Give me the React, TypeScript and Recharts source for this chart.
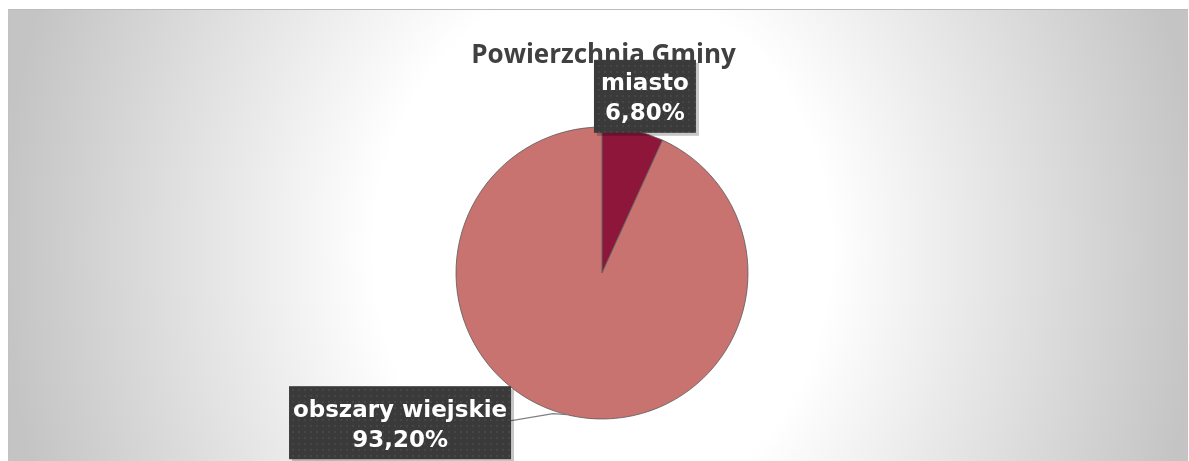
import { PieChart, Pie, Cell } from 'recharts'

const TITLE = 'Powierzchnia Gminy'
const categories = ['miasto', 'obszary wiejskie']
const shares = [6.8, 93.2]
const colors = ['#8e163b', '#c97370']

const data = categories.map((name, i) => ({ name, value: shares[i] }))

const fmt = (v: number) => v.toFixed(2).replace('.', ',') + '%'

const SliceLabel = (p: any) => {
  const { cx, cy, midAngle, outerRadius, index, name, value } = p
  const rad = (-midAngle * Math.PI) / 180
  const ex = cx + outerRadius * Math.cos(rad)
  const ey = cy + outerRadius * Math.sin(rad)
  const w = name.length * 12 + 30
  const h = 73
  // miasto sits just above its slice, the big one is pulled out to the left
  const bx = index === 0 ? ex + 12 : ex - 171
  const by = index === 0 ? ey - 34 : ey + 7
  const pid = `dots-${index}`
  return (
    <g>
      <defs>
        <pattern id={pid} width={6} height={6} patternUnits="userSpaceOnUse">
          <rect width={6} height={6} fill="#3a3a3a" />
          <circle cx={3} cy={3} r={0.8} fill="#555" />
        </pattern>
      </defs>
      {index === 1 && (
        <polyline
          points={`${bx + w / 2},${by - 2} ${ex - 18},${ey - 2} ${ex - 4},${ey - 1}`}
          fill="none"
          stroke="#7f7f7f"
          strokeWidth={1.2}
        />
      )}
      <rect x={bx - w / 2 + 3} y={by - h / 2 + 3} width={w} height={h} fill="rgba(0,0,0,0.22)" />
      <rect x={bx - w / 2} y={by - h / 2} width={w} height={h} fill={`url(#${pid})`} />
      <text
        x={bx}
        y={by - 6}
        textAnchor="middle"
        fill="#fff"
        fontFamily="DejaVu Sans"
        fontWeight="bold"
        fontSize={23}
      >
        {name}
      </text>
      <text
        x={bx}
        y={by + 24}
        textAnchor="middle"
        fill="#fff"
        fontFamily="DejaVu Sans"
        fontWeight="bold"
        fontSize={23}
      >
        {fmt(value)}
      </text>
    </g>
  )
}

const bg = [
  'radial-gradient(circle 178px at 593px 262px, #ffffff 84%, rgba(255,255,255,0) 100%)',
  'radial-gradient(ellipse 600px 700px at 593px 240px, #ffffff 0%, #ffffff 38%, #c4c4c4 100%)',
].join(', ')

export default function App() {
  return (
    <div
      style={{
        position: 'fixed',
        left: 8,
        top: 9,
        width: 1180,
        height: 460,
        boxSizing: 'border-box',
        borderTop: '1px solid #bcbcbc',
        borderLeft: '1px solid #c2c2c2',
        background: bg,
        overflow: 'hidden',
      }}
    >
      <style>{'html { overflow: hidden; }'}</style>
      <div
        style={{
          position: 'absolute',
          top: 26,
          left: 0,
          width: 1189,
          textAlign: 'center',
          fontFamily: 'Open Sans',
          fontWeight: 'bold',
          fontSize: 26,
          lineHeight: '34px',
          color: '#404040',
        }}
      >
        {TITLE}
      </div>
      <div style={{ position: 'absolute', top: -1, left: -1 }}>
        <PieChart width={1181} height={452}>
          <Pie
            data={data}
            dataKey="value"
            nameKey="name"
            cx={589}
            cy={259}
            outerRadius={146}
            startAngle={90}
            endAngle={-270}
            stroke="#5a5a5a"
            strokeWidth={0.8}
            label={SliceLabel}
            labelLine={false}
            isAnimationActive={false}
          >
            {data.map((d, i) => (
              <Cell key={d.name} fill={colors[i]} />
            ))}
          </Pie>
        </PieChart>
      </div>
    </div>
  )
}
